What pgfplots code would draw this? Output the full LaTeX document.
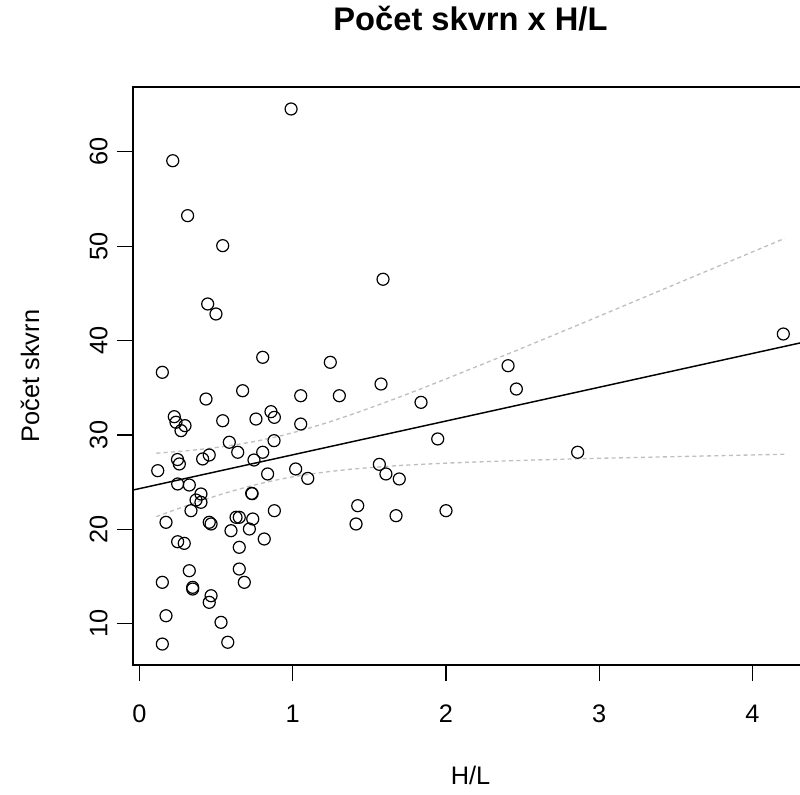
\documentclass[border=0pt]{standalone}
\usepackage{pgfplots}
\pgfplotsset{compat=1.18}
\usepackage{fontspec}
\setmainfont{Liberation Sans}
\pgfplotstableread{
x y
0.989 64.54
0.217 59.06
0.314 53.24
0.543 50.06
1.589 46.50
1.245 37.70
2.405 37.34
1.576 35.40
0.445 43.88
0.499 42.82
0.804 38.23
0.149 36.64
0.673 34.69
1.052 34.16
0.434 33.81
0.227 31.94
0.238 31.35
0.297 30.99
0.271 30.46
0.543 31.51
0.760 31.69
0.858 32.47
0.880 31.87
1.052 31.16
0.586 29.23
0.878 29.40
0.641 28.17
0.804 28.17
0.248 27.40
0.260 26.93
0.412 27.46
0.455 27.88
0.747 27.35
0.119 26.22
0.836 25.87
1.019 26.40
1.098 25.40
0.249 24.81
0.325 24.70
0.401 23.75
0.369 23.11
0.401 22.87
0.732 23.82
0.735 23.78
0.336 21.98
0.880 21.98
0.173 20.75
0.455 20.75
0.467 20.57
0.630 21.28
0.651 21.28
0.739 21.10
0.597 19.86
0.717 20.04
0.814 18.98
0.249 18.69
0.292 18.52
0.651 18.10
0.325 15.62
0.651 15.80
0.149 14.39
0.684 14.39
0.347 13.86
0.347 13.68
0.467 12.97
0.455 12.27
0.173 10.85
0.532 10.15
0.149 7.85
0.576 8.04
1.304 34.16
1.837 33.46
2.459 34.87
1.946 29.58
1.565 26.89
1.608 25.87
1.695 25.34
1.424 22.51
1.413 20.57
1.674 21.45
2.000 21.98
4.201 40.70
2.859 28.17
}\points
\pgfplotstableread{
x up lo
0.11 28.07 21.35
0.20 28.18 21.89
0.30 28.32 22.47
0.40 28.48 23.02
0.50 28.67 23.55
0.60 28.90 24.04
0.70 29.16 24.49
0.80 29.47 24.90
0.90 29.83 25.26
1.00 30.24 25.57
1.10 30.69 25.83
1.25 31.44 26.15
1.40 32.26 26.41
1.60 33.43 26.66
1.70 34.04 26.77
1.85 34.98 26.90
2.00 35.94 27.02
2.45 38.89 27.29
2.86 41.64 27.48
4.21 50.83 27.96
}\band
\begin{document}
\begin{tikzpicture}
\begin{axis}[
  scale only axis,
  width=506.25pt, height=433.5pt,
  xmin=-0.0424, xmax=4.362,
  ymin=5.63, ymax=66.87,
  xtick={0,1,2,3,4}, ytick={10,20,30,40,50,60},
  xtick pos=left, ytick pos=left,
  tick align=outside,
  major tick length=12pt,
  tick style={black, line width=0.9pt},
  axis line style={black, line width=1.1pt},
  /pgf/number format/assume math mode=true,
  ticklabel style={font=\fontsize{19}{19}\selectfont},
  xticklabel style={anchor=north, inner sep=0pt},
  yticklabel style={rotate=90, anchor=south, inner sep=0pt},
  xticklabel shift=18pt,
  yticklabel shift=6.75pt,
  xlabel={H/L},
  ylabel={Počet skvrn},
  label style={font=\fontsize{19}{19}\selectfont},
  xlabel style={at={(axis description cs:0.5,0)}, anchor=center, yshift=-82.5pt},
  ylabel style={at={(axis description cs:0,0.5)}, anchor=center, yshift=77.25pt},
  title={Počet skvrn x H/L},
  title style={at={(axis description cs:0.5,1)}, anchor=center, yshift=45pt, font=\bfseries\fontsize{24.5}{24.5}\selectfont},
]
\addplot[black, line width=1.1pt] coordinates {(-0.0424,24.168) (4.362,39.936)};
\addplot[gray!50, line width=1pt, dash pattern=on 3pt off 2.5pt] table[x=x, y=up] {\band};
\addplot[gray!50, line width=1pt, dash pattern=on 3pt off 2.5pt] table[x=x, y=lo] {\band};
\addplot[only marks, mark=o, mark size=4.5pt, mark options={black, line width=0.9pt}] table[x=x, y=y] {\points};
\end{axis}
\pgfresetboundingbox
\path[use as bounding box] (-99.75pt,-96.75pt) rectangle (500.25pt,498.75pt);
\end{tikzpicture}
\end{document}
